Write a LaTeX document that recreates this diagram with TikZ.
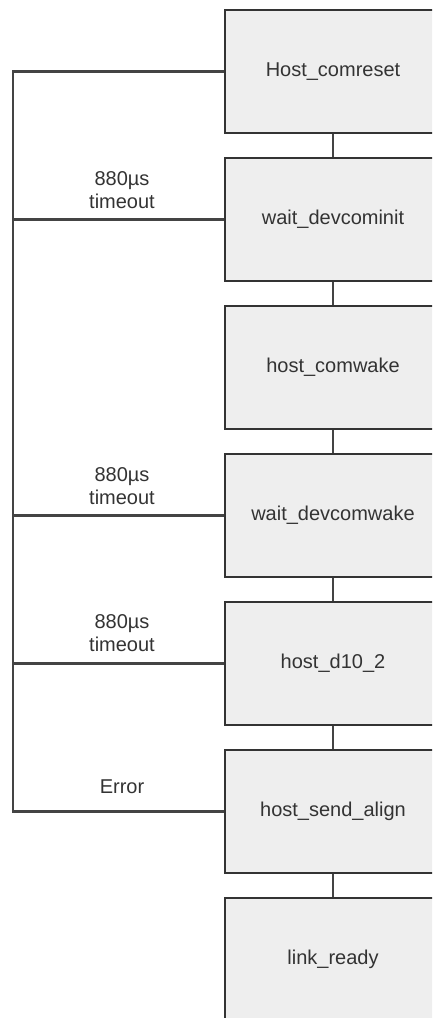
\documentclass[tikz,border=0pt]{standalone}
\usepackage{fontspec}
\setmainfont{Liberation Sans}
\definecolor{boxline}{HTML}{333333}
\definecolor{boxfill}{HTML}{EEEEEE}
\definecolor{wire}{HTML}{444444}
\definecolor{txt}{HTML}{333333}
\begin{document}
\begin{tikzpicture}[x=1pt,y=-1pt,
  state/.style={draw=boxline, fill=boxfill, line width=2.2pt,
    minimum width=216pt, minimum height=123pt, inner sep=0pt,
    font=\fontsize{20}{23}\selectfont, text=txt},
  link/.style={draw=wire, line width=2.2pt, line join=miter},
  lbl/.style={font=\fontsize{20}{23}\selectfont, text=txt, align=center, inner sep=0pt}]
\useasboundingbox (0,0) rectangle (432,1018);
\clip (0,0) rectangle (432,1018);

% state boxes
\node[state] (s1) at (333,71.5)  {Host\_comreset};
\node[state] (s2) at (333,219.5) {wait\_devcominit};
\node[state] (s3) at (333,367.5) {host\_comwake};
\node[state] (s4) at (333,515.5) {wait\_devcomwake};
\node[state] (s5) at (333,663.5) {host\_d10\_2};
\node[state] (s6) at (333,811.5) {host\_send\_align};
\node[state] (s7) at (333,959.5) {link\_ready};

% sequence links
\draw[link] (s1.south) -- (s2.north);
\draw[link] (s2.south) -- (s3.north);
\draw[link] (s3.south) -- (s4.north);
\draw[link] (s4.south) -- (s5.north);
\draw[link] (s5.south) -- (s6.north);
\draw[link] (s6.south) -- (s7.north);

% return rail back to Host_comreset
\coordinate (r1) at (13,71.5);
\coordinate (r6) at (13,811.5);
\draw[link] (s1.west) -- (r1) -- (r6) -- (s6.west);
\draw[link] (s2.west) -- (s2.west -| r1);
\draw[link] (s4.west) -- (s4.west -| r1);
\draw[link] (s5.west) -- (s5.west -| r1);

% labels on the rail branches
\node[lbl, anchor=south] (t2) at (122,209) {880µs\\timeout};
\node[lbl, anchor=south] (t4) at (122,505) {880µs\\timeout};
\node[lbl, anchor=south] (t5) at (122,652) {880µs\\timeout};
\node[lbl, anchor=base]  (t6) at (122,793) {Error};
\end{tikzpicture}
\end{document}
